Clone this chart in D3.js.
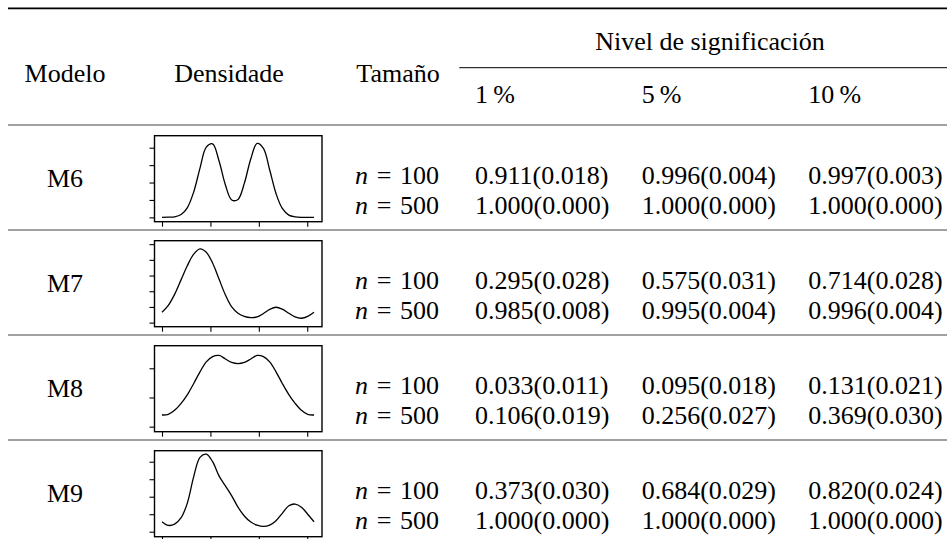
<!DOCTYPE html>
<html>
<head>
<meta charset="utf-8">
<script src="https://cdn.jsdelivr.net/npm/d3@7"></script>
<style>
    body { margin: 0; background: #fff; }
    text { font-family: "Liberation Serif", "Times New Roman", serif; fill: #000; }
</style>
</head>
<body>
<div id="table"></div>
<script>

/************ DATA ***************/
var models = ["M6", "M7", "M8", "M9"];
var sizes = ["100", "500"];
var levels = ["1", "5", "10"];

// rejection rates (and standard errors), one row per model, one column per level
var powerN100 = [[0.911, 0.996, 0.997], [0.295, 0.575, 0.714], [0.033, 0.095, 0.131], [0.373, 0.684, 0.820]];
var seN100 = [[0.018, 0.004, 0.003], [0.028, 0.031, 0.028], [0.011, 0.018, 0.021], [0.030, 0.029, 0.024]];
var powerN500 = [[1.000, 1.000, 1.000], [0.985, 0.995, 0.996], [0.106, 0.256, 0.369], [1.000, 1.000, 1.000]];
var seN500 = [[0.000, 0.000, 0.000], [0.008, 0.004, 0.004], [0.019, 0.027, 0.030], [0.000, 0.000, 0.000]];

// densities, on [0, 2pi]
var angles = [0, 0.26, 0.52, 0.79, 1.05, 1.31, 1.57, 1.83, 2.09, 2.36, 2.62, 2.88, 3.14,
    3.40, 3.67, 3.93, 4.19, 4.45, 4.71, 4.97, 5.24, 5.50, 5.76, 6.02, 6.28];
var densM6 = [0.000, 0.001, 0.003, 0.016, 0.056, 0.146, 0.283, 0.403, 0.422, 0.322, 0.186, 0.100, 0.103,
    0.195, 0.337, 0.425, 0.396, 0.272, 0.137, 0.051, 0.013, 0.003, 0.000, 0.000, 0.000];
var densM7 = [0.083, 0.105, 0.140, 0.187, 0.232, 0.268, 0.285, 0.274, 0.240, 0.188, 0.138, 0.100, 0.080,
    0.070, 0.066, 0.068, 0.079, 0.092, 0.099, 0.093, 0.080, 0.068, 0.064, 0.070, 0.083];
var densM8 = [0.120, 0.121, 0.128, 0.140, 0.155, 0.174, 0.194, 0.211, 0.220, 0.222, 0.216, 0.210, 0.208,
    0.210, 0.216, 0.222, 0.220, 0.211, 0.194, 0.174, 0.155, 0.140, 0.128, 0.121, 0.120];
var densM9 = [0.057, 0.036, 0.043, 0.080, 0.165, 0.315, 0.425, 0.443, 0.400, 0.318, 0.262, 0.205, 0.140,
    0.090, 0.055, 0.037, 0.030, 0.038, 0.063, 0.105, 0.148, 0.158, 0.140, 0.100, 0.057];

var xTicks = [0, 2, 4, 6];
var xLim = [-0.31, 6.61];
var yTicksM6 = [0, 0.1, 0.2, 0.3, 0.4];
var yTicksM7 = [0.05, 0.10, 0.15, 0.20, 0.25, 0.30];
var yTicksM8 = [0.10, 0.15, 0.20];
var yTicksM9 = [0, 0.1, 0.2, 0.3, 0.4];
var yLimM6 = [-0.025, 0.469];
var yLimM7 = [0.037, 0.311];
var yLimM8 = [0.0914, 0.2387];
var yLimM9 = [-0.0286, 0.463];

var dens = [densM6, densM7, densM8, densM9];
var yTicks = [yTicksM6, yTicksM7, yTicksM8, yTicksM9];
var yLims = [yLimM6, yLimM7, yLimM8, yLimM9];


/************ PAGE SET-UP ***************/
var width = 947;
var height = 539;
var fontSize = 26;

var svg = d3.select("#table").append("svg")
    .attr("width", width)
    .attr("height", height);

var rowScale = d3.scaleBand().domain(models).range([125, 545]);
var sizeScale = d3.scalePoint().domain(sizes).range([59, 89]);
var colScale = d3.scaleBand().domain(levels).range([475, 975]);

var fmt = d3.format(".3f");


/************ HEADER ***************/
svg.append("line")
    .attr("x1", 8).attr("x2", width)
    .attr("y1", 8.3).attr("y2", 8.3)
    .attr("stroke", "#000")
    .attr("stroke-width", 1.8);

svg.append("text")
    .attr("x", 65).attr("y", 82)
    .attr("text-anchor", "middle")
    .style("font-size", fontSize + "px")
    .text("Modelo");

svg.append("text")
    .attr("x", 229).attr("y", 82)
    .attr("text-anchor", "middle")
    .style("font-size", fontSize + "px")
    .text("Densidade");

svg.append("text")
    .attr("x", 398).attr("y", 82)
    .attr("text-anchor", "middle")
    .style("font-size", fontSize + "px")
    .text("Tamaño");

svg.append("text")
    .attr("x", 710).attr("y", 50)
    .attr("text-anchor", "middle")
    .style("font-size", fontSize + "px")
    .text("Nivel de significación");

svg.append("line")
    .attr("x1", 459.3).attr("x2", width)
    .attr("y1", 67.7).attr("y2", 67.7)
    .attr("stroke", "#000")
    .attr("stroke-width", 1);

svg.selectAll(".level")
    .data(levels)
    .enter().append("text")
    .attr("class", "level")
    .attr("x", d => colScale(d))
    .attr("y", 103.3)
    .style("font-size", fontSize + "px")
    .text(d => d + "\u2009%");


/************ ROWS ***************/
// rules above each model
svg.selectAll(".rule")
    .data(models)
    .enter().append("line")
    .attr("class", "rule")
    .attr("x1", 8).attr("x2", width)
    .attr("y1", d => rowScale(d)).attr("y2", d => rowScale(d))
    .attr("stroke", "#444")
    .attr("stroke-width", 1.2);

var rows = svg.selectAll(".row")
    .data(models)
    .enter().append("g")
    .attr("class", "row")
    .attr("transform", d => `translate(0,${rowScale(d)})`);

rows.append("text")
    .attr("x", 65).attr("y", 61.5)
    .attr("text-anchor", "middle")
    .style("font-size", fontSize + "px")
    .text(d => d);

rows.each(function (m, i) {
    var row = d3.select(this);

    sizes.forEach(function (s, j) {
        var t = row.append("text")
            .attr("x", 397)
            .attr("y", sizeScale(s))
            .attr("text-anchor", "middle")
            .style("font-size", fontSize + "px");
        t.append("tspan").style("font-style", "italic").text("n");
        t.append("tspan").text("\u2004=\u2004" + s);

        var p = j == 0 ? powerN100[i] : powerN500[i];
        var se = j == 0 ? seN100[i] : seN500[i];

        levels.forEach(function (l, k) {
            row.append("text")
                .attr("x", colScale(l))
                .attr("y", sizeScale(s))
                .style("font-size", fontSize + "px")
                .text(`${fmt(p[k])}(${fmt(se[k])})`);
        });
    });

    /********* SMALL DENSITY PLOT ************/
    var x = d3.scaleLinear().domain(xLim).range([154.5, 322]);
    var y = d3.scaleLinear().domain(yLims[i]).range([96.7, 10.7]);

    var line = d3.line()
        .x((d, k) => x(angles[k]))
        .y(d => y(d))
        .curve(d3.curveCatmullRom.alpha(0.5));

    row.append("path")
        .datum(dens[i])
        .attr("d", line)
        .attr("fill", "none")
        .attr("stroke", "#000")
        .attr("stroke-width", 1.3);

    var yAxis = row.append("g")
        .attr("transform", `translate(${x(xLim[0])},0)`)
        .call(d3.axisLeft(y).tickValues(yTicks[i]).tickSize(5).tickFormat(""));
    yAxis.select(".domain").remove();

    var xAxis = row.append("g")
        .attr("transform", `translate(0,${y(yLims[i][0])})`)
        .call(d3.axisBottom(x).tickValues(xTicks).tickSize(5).tickFormat(""));
    xAxis.select(".domain").remove();

    row.selectAll(".tick line").attr("stroke-width", 1.1);

    row.append("rect")
        .attr("x", x(xLim[0]))
        .attr("y", y(yLims[i][1]))
        .attr("width", x(xLim[1]) - x(xLim[0]))
        .attr("height", y(yLims[i][0]) - y(yLims[i][1]))
        .attr("fill", "none")
        .attr("stroke", "#000")
        .attr("stroke-width", 1.4);
});

</script>
</body>
</html>
